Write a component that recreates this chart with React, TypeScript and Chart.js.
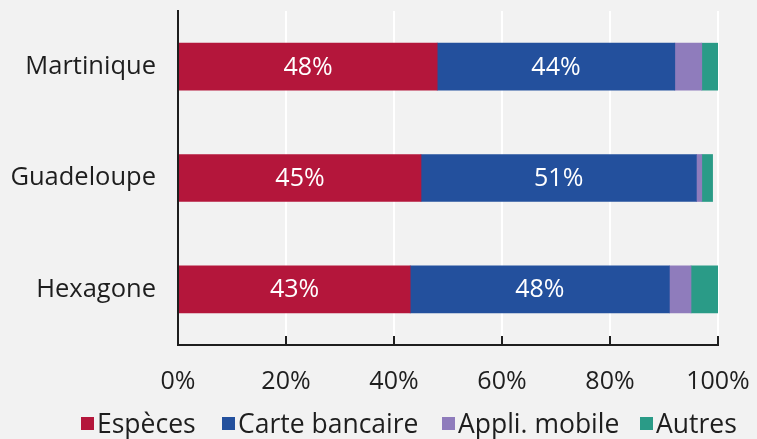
import React, { useEffect, useRef } from "react";
import { Chart, registerables } from "chart.js";

Chart.register(...registerables);

const categories = ["Martinique", "Guadeloupe", "Hexagone"];
const seriesNames = ["Espèces", "Carte bancaire", "Appli. mobile", "Autres"];
const especes = [48, 45, 43];
const carte = [44, 51, 48];
const appli = [5, 1, 4];
const autres = [3, 2, 5];
const colors = ["#b4163b", "#23509d", "#8f7cbc", "#2a9b87"];
const xTicks = [0, 20, 40, 60, 80, 100];
const labelledSeries = [0, 1];
const legendLefts = [81, 222, 442, 640];

const FONT = "'Open Sans', sans-serif";
const TEXT = "#1e1e1e";
const BG = "#f2f2f2";

const innerTicks = {
  id: "innerTicks",
  afterDraw(chart: any) {
    const x = chart.scales.x;
    const ctx = chart.ctx;
    const bottom = chart.chartArea.bottom;
    ctx.save();
    ctx.strokeStyle = TEXT;
    ctx.lineWidth = 2;
    xTicks.forEach((v) => {
      const px = Math.round(x.getPixelForValue(v));
      ctx.beginPath();
      ctx.moveTo(px, bottom);
      ctx.lineTo(px, bottom - 9);
      ctx.stroke();
    });
    ctx.restore();
  },
};

const barLabels = {
  id: "barLabels",
  afterDatasetsDraw(chart: any) {
    const ctx = chart.ctx;
    ctx.save();
    ctx.fillStyle = "#ffffff";
    ctx.font = `25px ${FONT}`;
    ctx.textAlign = "center";
    ctx.textBaseline = "middle";
    labelledSeries.forEach((di) => {
      const meta = chart.getDatasetMeta(di);
      const data = chart.data.datasets[di].data;
      meta.data.forEach((el: any, i: number) => {
        const cx = (el.x + el.base) / 2;
        ctx.fillText(`${data[i]}%`, cx, el.y + 1);
      });
    });
    ctx.restore();
  },
};

const zeroPad = (s: any) => {
  s.paddingTop = 0;
  s.paddingBottom = 0;
  s.paddingLeft = 0;
  s.paddingRight = 0;
};

export default function App() {
  const ref = useRef<HTMLCanvasElement>(null);

  useEffect(() => {
    if (!ref.current) return;
    const seriesData = [especes, carte, appli, autres];
    const chart = new Chart(ref.current, {
      type: "bar",
      data: {
        labels: categories,
        datasets: seriesNames.map((name, i) => ({
          label: name,
          data: seriesData[i],
          backgroundColor: colors[i],
          borderColor: colors[i],
          borderWidth: 0,
          barThickness: 47,
        })),
      },
      options: {
        indexAxis: "y",
        responsive: false,
        animation: false,
        layout: { padding: { top: 11, right: 39, left: 0, bottom: 0 } },
        plugins: {
          legend: { display: false },
          tooltip: { enabled: false },
          title: { display: false },
        },
        scales: {
          x: {
            stacked: true,
            min: 0,
            max: 100,
            afterBuildTicks: (s: any) => {
              s.ticks = xTicks.map((v) => ({ value: v }));
            },
            afterFit: (s: any) => {
              s.height = 94;
              zeroPad(s);
            },
            grid: {
              color: (c: any) => (c.index === 0 ? "rgba(0,0,0,0)" : "#ffffff"),
              lineWidth: 2,
              drawTicks: false,
            },
            border: { display: true, color: TEXT, width: 2, z: 1 },
            ticks: {
              padding: 22,
              color: TEXT,
              font: { family: FONT, size: 25 },
              callback: (v: any) => `${v}%`,
            },
          },
          y: {
            stacked: true,
            afterFit: (s: any) => {
              s.width = 178;
              zeroPad(s);
            },
            grid: { display: false, drawTicks: false },
            border: { display: true, color: TEXT, width: 2, z: 1 },
            ticks: {
              padding: 22,
              color: TEXT,
              font: { family: FONT, size: 25.5 },
            },
          },
        },
      },
      plugins: [innerTicks, barLabels],
    });
    return () => chart.destroy();
  }, []);

  return (
    <div
      style={{
        position: "absolute",
        left: 0,
        top: 0,
        width: 757,
        height: 439,
        background: BG,
        overflow: "hidden",
        fontFamily: FONT,
      }}
    >
      <canvas ref={ref} width={757} height={439} style={{ display: "block" }} />
      {seriesNames.map((name, i) => (
        <div
          key={name}
          style={{
            position: "absolute",
            left: legendLefts[i],
            top: 405,
            display: "flex",
            alignItems: "center",
            fontSize: 26.5,
            lineHeight: "36px",
            color: TEXT,
            whiteSpace: "nowrap",
          }}
        >
          <span
            style={{
              display: "inline-block",
              width: 13,
              height: 13,
              background: colors[i],
              marginRight: 3,
            }}
          />
          <span>{name}</span>
        </div>
      ))}
    </div>
  );
}
